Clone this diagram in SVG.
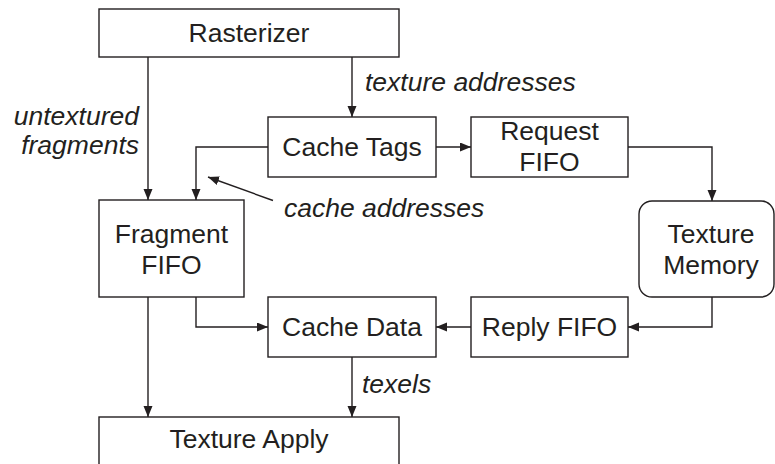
<svg xmlns="http://www.w3.org/2000/svg" width="775" height="464" viewBox="0 0 775 464">
<style>
.box{fill:#fff;stroke:#231f20;stroke-width:1.4}
.t{font-family:"Liberation Sans",Arial,sans-serif;font-size:26.5px;fill:#231f20;text-anchor:middle}
.i{font-family:"Liberation Sans",Arial,sans-serif;font-size:26.5px;fill:#231f20;font-style:italic}
.c{fill:none;stroke:#231f20;stroke-width:1.4}
</style>
<defs>
<marker id="a" markerUnits="userSpaceOnUse" markerWidth="12" markerHeight="10" refX="11" refY="4.5" orient="auto">
<path d="M0,0 L11,4.5 L0,9 z" fill="#231f20"/>
</marker>
</defs>
<rect width="775" height="464" fill="#fff"/>
<g id="connectors">
<path class="c" d="M148,57 V200" marker-end="url(#a)"/>
<path class="c" d="M352,57 V117" marker-end="url(#a)"/>
<path class="c" d="M436,147 H471" marker-end="url(#a)"/>
<path class="c" d="M268,147 H196 V200" marker-end="url(#a)"/>
<path class="c" d="M628,147 H712 V201" marker-end="url(#a)"/>
<path class="c" d="M273,200.5 L208,177" marker-end="url(#a)"/>
<path class="c" d="M712,297 V327 H628" marker-end="url(#a)"/>
<path class="c" d="M471,327 H436" marker-end="url(#a)"/>
<path class="c" d="M196,297 V327 H268" marker-end="url(#a)"/>
<path class="c" d="M148,297 V417" marker-end="url(#a)"/>
<path class="c" d="M352,357 V417" marker-end="url(#a)"/>
</g>
<g id="labels">
<text class="i" x="365" y="91">texture addresses</text>
<text class="i" x="139" y="125" text-anchor="end">untextured</text>
<text class="i" x="139" y="154" text-anchor="end">fragments</text>
<text class="i" x="284" y="217">cache addresses</text>
<text class="i" x="362" y="393">texels</text>
</g>
<g id="rasterizer">
<rect class="box" x="99" y="9" width="300" height="48"/>
<text class="t" x="249" y="42">Rasterizer</text>
</g>
<g id="cache-tags">
<rect class="box" x="268" y="117" width="168" height="60"/>
<text class="t" x="352" y="156">Cache Tags</text>
</g>
<g id="request-fifo">
<rect class="box" x="471" y="117" width="157" height="60"/>
<text class="t" x="549.5" y="140">Request</text>
<text class="t" x="549.5" y="171">FIFO</text>
</g>
<g id="fragment-fifo">
<rect class="box" x="99" y="200" width="145" height="97"/>
<text class="t" x="171.5" y="243">Fragment</text>
<text class="t" x="171.5" y="274">FIFO</text>
</g>
<g id="texture-memory">
<rect class="box" x="639" y="201" width="135" height="96" rx="13"/>
<text class="t" x="711" y="243">Texture</text>
<text class="t" x="711" y="274">Memory</text>
</g>
<g id="cache-data">
<rect class="box" x="268" y="297" width="168" height="60"/>
<text class="t" x="352" y="336">Cache Data</text>
</g>
<g id="reply-fifo">
<rect class="box" x="471" y="297" width="157" height="60"/>
<text class="t" x="549.5" y="336">Reply FIFO</text>
</g>
<g id="texture-apply">
<rect class="box" x="99" y="417" width="300" height="60"/>
<text class="t" x="249" y="448">Texture Apply</text>
</g>
</svg>
